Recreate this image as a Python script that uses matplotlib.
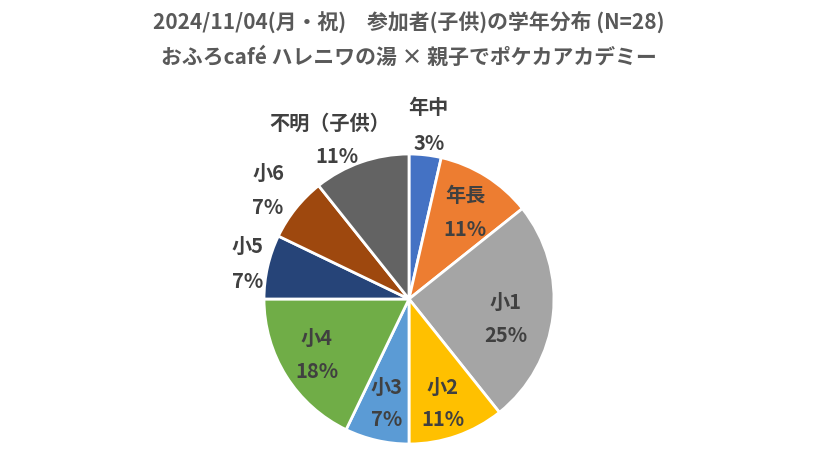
import matplotlib
matplotlib.use("Agg")
import matplotlib.pyplot as plt

plt.rcParams['font.family'] = ['Noto Sans CJK JP', 'DejaVu Sans']

# data
grades = ['年中', '年長', '小1', '小2', '小3', '小4', '小5', '小6', '不明（子供）']
counts = [1, 3, 7, 3, 2, 5, 2, 2, 3]
pct_labels = ['3%', '11%', '25%', '11%', '7%', '18%', '7%', '7%', '11%']
colors = ['#4472C4', '#ED7D31', '#A5A5A5', '#FFC000', '#5B9BD5',
          '#70AD47', '#264478', '#9E480E', '#636363']

title1 = '2024/11/04(月・祝)　参加者(子供)の学年分布 (N=28)'
title2 = 'おふろcafé ハレニワの湯 × 親子でポケカアカデミー'

W, H = 816, 460
cx, cy, r = 409, 300, 145

fig = plt.figure(figsize=(W / 100, H / 100), dpi=100)
fig.patch.set_facecolor('white')
ax = fig.add_axes([(cx - r) / W, (H - cy - r) / H, 2 * r / W, 2 * r / H])
ax.pie(counts, colors=colors, startangle=90, counterclock=False, radius=1,
       wedgeprops=dict(edgecolor='white', linewidth=2))
ax.set_xlim(-1, 1)
ax.set_ylim(-1, 1)
ax.set_aspect('equal')
ax.axis('off')

# label positions in pixels (name centre, pct centre)
label_pos = [((428, 107), (429, 143)),
             ((465, 196), (465, 230)),
             ((506, 302), (506, 335)),
             ((443, 387), (443, 420)),
             ((387, 387), (387, 420)),
             ((317, 338), (317, 372)),
             ((248, 246), (248, 281)),
             ((269, 173), (268, 208)),
             ((330, 123), (337, 157))]

for name, pct, (p1, p2) in zip(grades, pct_labels, label_pos):
    for txt, (px, py) in ((name, p1), (pct, p2)):
        fig.text(px / W, 1 - py / H, txt, ha='center', va='center',
                 fontsize=14.5, fontweight='bold', color='#404040')

fig.text(cx / W, 1 - 22 / H, title1, ha='center', va='center',
         fontsize=15, fontweight='bold', color='#595959')
fig.text(cx / W, 1 - 57 / H, title2, ha='center', va='center',
         fontsize=15, fontweight='bold', color='#595959')

fig.savefig('out.png', dpi=100)
